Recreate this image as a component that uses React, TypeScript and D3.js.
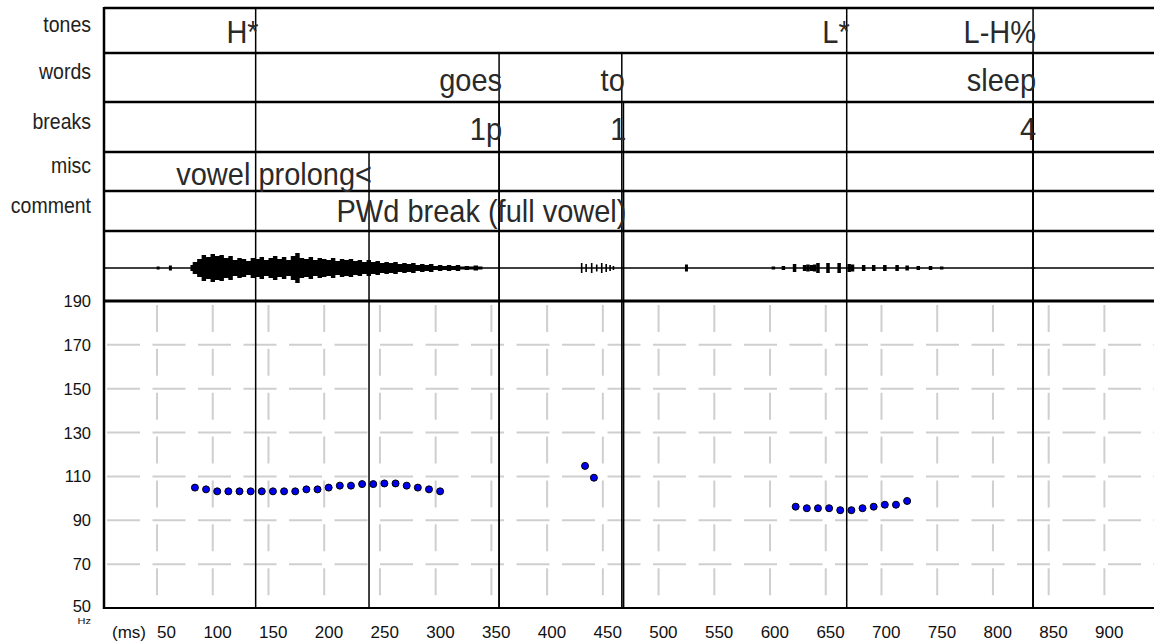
import React, { useEffect, useRef } from 'react';
import * as d3 from 'd3';

// tiers, top to bottom
const tierNames = ['tones', 'words', 'breaks', 'misc', 'comment'];

// labels of each tier: time of the label point (ms) and its text
const tonesLabels = [
  { t: 138.5, text: 'H*' },
  { t: 668.8, text: 'L*' },
  { t: 836, text: 'L-H%' },
];
const wordsLabels = [
  { t: 356.9, text: 'goes' },
  { t: 467, text: 'to' },
  { t: 836, text: 'sleep' },
];
const breaksLabels = [
  { t: 356.9, text: '1p' },
  { t: 468.5, text: '1' },
  { t: 836, text: '4' },
];
const miscLabels = [{ t: 240.2, text: 'vowel prolong<' }];
const commentLabels = [{ t: 468.5, text: 'PWd break (full vowel)' }];

// pitch track
const f0Times = [
  84, 94, 104, 114, 124, 134, 144, 154, 164, 174, 184, 194, 204, 214, 224, 234,
  244, 254, 264, 274, 284, 294, 304, 434, 442, 623, 633, 643, 653, 663, 673,
  683, 693, 703, 713, 723,
];
const f0Values = [
  104.9, 104.1, 103.2, 103.2, 103.2, 103.2, 103.2, 103.2, 103.2, 103.2, 104.1,
  104.1, 104.9, 105.8, 105.8, 106.5, 106.5, 106.8, 106.8, 105.8, 104.9, 104.1,
  103.2, 114.8, 109.4, 96.2, 95.5, 95.5, 95.5, 94.6, 94.6, 95.5, 96.2, 97.1,
  97.1, 98.8,
];

// waveform envelope (amplitude, arbitrary units)
const goesWaveTimes = [
  80, 84, 88, 92, 96, 100, 104, 108, 112, 116, 120, 124, 128, 132, 136, 140,
  144, 148, 152, 156, 160, 164, 168, 172, 176, 180, 184, 188, 192, 196, 200,
  204, 208, 212, 216, 220, 224, 228, 232, 236, 240, 244, 248, 252, 256, 260,
  264, 268, 272, 276, 280, 284, 288, 292, 296, 300, 304, 308, 312, 316, 320,
  324, 328, 332, 336, 340, 344,
];
const goesWaveAmps = [
  3, 6, 9, 13, 11, 14, 12, 13, 10, 12, 8, 10, 9, 7, 10, 9, 11, 8, 10, 12, 9,
  11, 8, 12, 15, 10, 9, 11, 8, 10, 9, 8, 10, 7, 9, 8, 9, 7, 8, 6, 8, 6, 7, 5,
  6, 5, 6, 4, 5, 4, 5, 3, 4, 3, 4, 2, 3, 2, 3, 2, 3, 1.5, 2, 1.5, 2.5, 1.5, 0,
];
const toWaveTimes = [431, 435, 440, 444.5, 449, 453, 456.5, 459.5];
const toWaveAmps = [5, 4, 5, 3.5, 5, 4, 3, 2];
const sleepWaveTimes = [
  603, 612, 622, 631, 634, 637, 640, 643, 652, 662, 671, 674, 684, 693, 703,
  714, 723, 733, 744, 754,
];
const sleepWaveAmps = [
  1.5, 2, 4, 3, 3.5, 3, 3.5, 5, 5, 5, 4, 3.5, 3, 3, 3, 3, 2.5, 2, 2, 1.5,
];
const clickTimes = [51, 62, 525, 836];
const clickAmps = [1.5, 2.5, 3.5, 1];

const hzTicks = [50, 70, 90, 110, 130, 150, 170, 190];
const msTicks = [
  50, 100, 150, 200, 250, 300, 350, 400, 450, 500, 550, 600, 650, 700, 750,
  800, 850, 900,
];

const width = 1154;
const height = 643;
const left = 104;
const rowEdges = [8, 53, 102, 152, 191, 231];
const labelBaselines = [43, 91, 140, 185, 222];
const waveCenter = 268;
const plotTop = 301;
const plotBottom = 608;
const font = '"Liberation Sans", Arial, sans-serif';

export default function App() {
  const svgRef = useRef<SVGSVGElement>(null);

  useEffect(() => {
    const svg = d3.select(svgRef.current);
    svg.selectAll('*').remove();
    svg.attr('width', width).attr('height', height);

    const x = d3.scaleLinear().domain([0, 900]).range([101.3, 1104.4]);
    const y = d3.scaleLinear().domain([50, 190]).range([plotBottom, plotTop]);
    const yWave = d3
      .scaleLinear()
      .domain([-35, 35])
      .range([waveCenter + 35, waveCenter - 35]);

    svg
      .append('rect')
      .attr('width', width)
      .attr('height', height)
      .attr('fill', '#ffffff');

    // grid of the pitch panel
    svg
      .append('g')
      .selectAll('line')
      .data(msTicks)
      .enter()
      .append('line')
      .attr('x1', (d) => x(d))
      .attr('x2', (d) => x(d))
      .attr('y1', plotTop + 4)
      .attr('y2', plotBottom)
      .attr('stroke', '#cfcfcf')
      .attr('stroke-width', 2)
      .attr('stroke-dasharray', '27 16.86');

    svg
      .append('g')
      .selectAll('line')
      .data(hzTicks.filter((d) => d > 50 && d < 190))
      .enter()
      .append('line')
      .attr('x1', left + 3)
      .attr('x2', width)
      .attr('y1', (d) => y(d))
      .attr('y2', (d) => y(d))
      .attr('stroke', '#cfcfcf')
      .attr('stroke-width', 2)
      .attr('stroke-dasharray', '33 12.5');

    // waveform
    svg
      .append('line')
      .attr('x1', left)
      .attr('x2', width)
      .attr('y1', waveCenter)
      .attr('y2', waveCenter)
      .attr('stroke', '#000')
      .attr('stroke-width', 1.5);

    const goesWave = goesWaveTimes.map((t, i) => ({ t, a: goesWaveAmps[i] }));
    const area = d3
      .area<{ t: number; a: number }>()
      .x((d) => x(d.t))
      .y0((d) => yWave(-d.a))
      .y1((d) => yWave(d.a))
      .curve(d3.curveStep);
    svg.append('path').attr('d', area(goesWave)).attr('fill', '#000');

    const drawBlips = (times: number[], amps: number[], w: number) => {
      svg
        .append('g')
        .selectAll('rect')
        .data(times.map((t, i) => ({ t, a: amps[i] })))
        .enter()
        .append('rect')
        .attr('x', (d) => x(d.t) - w / 2)
        .attr('width', w)
        .attr('y', (d) => yWave(d.a))
        .attr('height', (d) => yWave(-d.a) - yWave(d.a))
        .attr('fill', '#000');
    };
    drawBlips(toWaveTimes, toWaveAmps, 1.6);
    drawBlips(sleepWaveTimes, sleepWaveAmps, 3.5);
    drawBlips(clickTimes, clickAmps, 3);

    // frame and tier rows
    svg
      .append('g')
      .selectAll('line')
      .data(rowEdges)
      .enter()
      .append('line')
      .attr('x1', left)
      .attr('x2', width)
      .attr('y1', (d) => d)
      .attr('y2', (d) => d)
      .attr('stroke', '#000')
      .attr('stroke-width', 2.5);

    svg
      .append('line')
      .attr('x1', left)
      .attr('x2', width)
      .attr('y1', plotTop)
      .attr('y2', plotTop)
      .attr('stroke', '#000')
      .attr('stroke-width', 3);

    svg
      .append('line')
      .attr('x1', left)
      .attr('x2', width)
      .attr('y1', plotBottom)
      .attr('y2', plotBottom)
      .attr('stroke', '#000')
      .attr('stroke-width', 2);

    svg
      .append('line')
      .attr('x1', left)
      .attr('x2', left)
      .attr('y1', rowEdges[0] - 1)
      .attr('y2', plotBottom + 1)
      .attr('stroke', '#000')
      .attr('stroke-width', 2.5);

    // label boundaries: from their tier down to the bottom
    const tiers = [tonesLabels, wordsLabels, breaksLabels, miscLabels, commentLabels];
    tiers.forEach((labels, i) => {
      svg
        .append('g')
        .selectAll('line')
        .data(labels)
        .enter()
        .append('line')
        .attr('x1', (d) => x(d.t))
        .attr('x2', (d) => x(d.t))
        .attr('y1', rowEdges[i])
        .attr('y2', plotBottom)
        .attr('stroke', '#000')
        .attr('stroke-width', 1.5);
    });

    // pitch points
    svg
      .append('g')
      .selectAll('circle')
      .data(f0Times.map((t, i) => ({ t, hz: f0Values[i] })))
      .enter()
      .append('circle')
      .attr('cx', (d) => x(d.t))
      .attr('cy', (d) => y(d.hz))
      .attr('r', 3.5)
      .attr('fill', '#0000f0')
      .attr('stroke', '#000')
      .attr('stroke-width', 1);

    // tier names
    svg
      .append('g')
      .selectAll('text')
      .data(tierNames)
      .enter()
      .append('text')
      .attr(
        'transform',
        (d, i) =>
          `translate(91,${(rowEdges[i] + rowEdges[i + 1]) / 2 + 1.5}) scale(1,1.15)`
      )
      .attr('text-anchor', 'end')
      .attr('font-family', font)
      .attr('font-size', 19.5)
      .attr('fill', '#222')
      .text((d) => d);

    // tier labels, right aligned to their point
    tiers.forEach((labels, i) => {
      svg
        .append('g')
        .selectAll('text')
        .data(labels)
        .enter()
        .append('text')
        .attr(
          'transform',
          (d) => `translate(${x(d.t) + 3},${labelBaselines[i]}) scale(1,1.1)`
        )
        .attr('text-anchor', 'end')
        .attr('font-family', font)
        .attr('font-size', 29)
        .attr('fill', '#2a2a2a')
        .text((d) => d.text);
    });

    // Hz axis labels
    svg
      .append('g')
      .selectAll('text')
      .data(hzTicks)
      .enter()
      .append('text')
      .attr('x', 91)
      .attr('y', (d) => (d === 50 ? y(d) + 4 : y(d) + 6))
      .attr('text-anchor', 'end')
      .attr('font-family', font)
      .attr('font-size', 16.5)
      .attr('fill', '#111')
      .text((d) => d);

    svg
      .append('text')
      .attr('transform', `translate(91,${plotBottom + 16}) scale(1,0.75)`)
      .attr('text-anchor', 'end')
      .attr('font-family', font)
      .attr('font-size', 11)
      .attr('fill', '#111')
      .text('Hz');

    // ms axis labels
    svg
      .append('g')
      .selectAll('text')
      .data(msTicks)
      .enter()
      .append('text')
      .attr('x', (d) => x(d) + 19)
      .attr('y', 638)
      .attr('text-anchor', 'end')
      .attr('font-family', font)
      .attr('font-size', 17)
      .attr('fill', '#111')
      .text((d) => d);

    svg
      .append('text')
      .attr('x', 146)
      .attr('y', 638)
      .attr('text-anchor', 'end')
      .attr('font-family', font)
      .attr('font-size', 17)
      .attr('fill', '#111')
      .text('(ms)');
  }, []);

  return (
    <svg
      ref={svgRef}
      style={{ position: 'absolute', left: 0, top: 0, display: 'block' }}
    ></svg>
  );
}
